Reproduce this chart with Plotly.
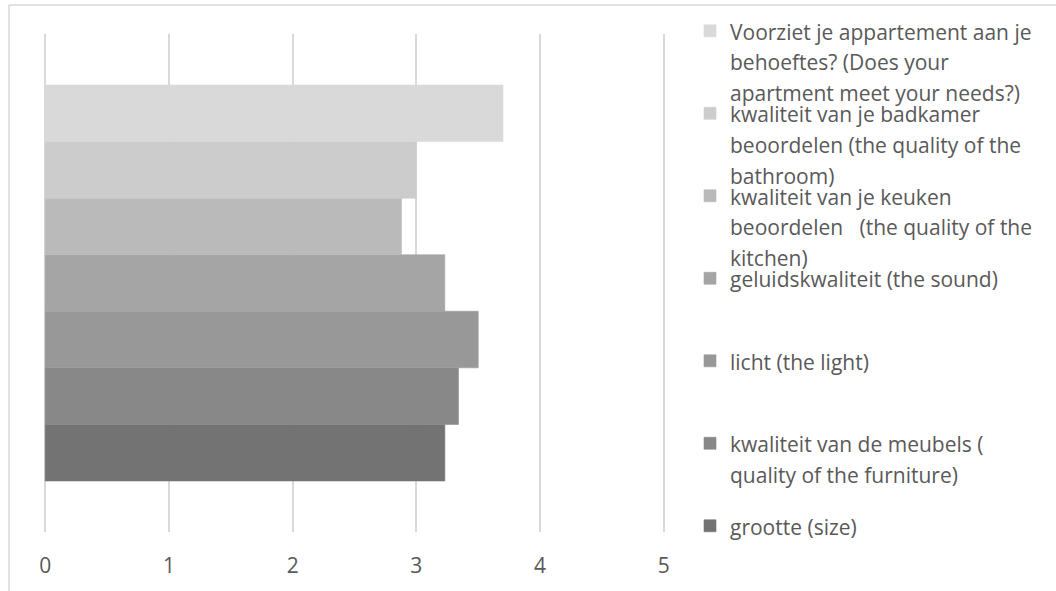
import plotly.graph_objects as go

# ---- data ----
series_names = [
    "grootte (size)",
    "kwaliteit van de meubels (<br>quality of the furniture)",
    "licht (the light)",
    "geluidskwaliteit (the sound)",
    "kwaliteit van je keuken<br>beoordelen   (the quality of the<br>kitchen)",
    "kwaliteit van je badkamer<br>beoordelen (the quality of the<br>bathroom)",
    "Voorziet je appartement aan je<br>behoeftes? (Does your<br>apartment meet your needs?)",
]
series_values = [3.23, 3.34, 3.50, 3.23, 2.88, 3.00, 3.70]
series_colors = ["#737373", "#888888", "#989898", "#a5a5a5", "#bababa", "#cccccc", "#d9d9d9"]
category = [""]
x_ticks = [0, 1, 2, 3, 4, 5]

W, H = 1056, 591
L, R, T, B = 39, 386, 34, 59
pw, ph = W - L - R, H - T - B

def px_x(x):
    return (x - L) / pw

def px_y(y):
    return (H - B - y) / ph

FONT = "Open Sans"
TXT = "#595959"
GLYPH = 21
LINEH = 23.5  # so 1.3em ≈ 30.5px

fig = go.Figure()
legend_slot_top = 32  # first-line centre of top legend entry
slot = 82.5
layout_legends = {}
n = len(series_names)
for i, (name, val, col) in enumerate(zip(series_names, series_values, series_colors)):
    lname = "legend" if i == 0 else f"legend{i+1}"
    styled = "<br>".join(f"<span style='font-size:{GLYPH}px'>{p}</span>" for p in name.split("<br>"))
    fig.add_trace(go.Bar(
        x=[val], y=category, orientation="h", name=styled,
        marker=dict(color=col, line=dict(width=0.6, color=col)),
        legend=lname,
    ))
    rank = n - 1 - i  # 0 = top entry
    y_line = legend_slot_top + rank * slot
    layout_legends[lname] = dict(
        x=px_x(690), xanchor="left",
        y=px_y(y_line - 23), yanchor="top",
        bgcolor="rgba(0,0,0,0)",
        font=dict(family=FONT, size=LINEH, color=TXT),
        valign="top",
        itemclick=False, itemdoubleclick=False,
    )

fig.update_layout(
    width=W, height=H,
    margin=dict(l=L, r=R, t=T, b=B, autoexpand=False),
    paper_bgcolor="white", plot_bgcolor="white",
    barmode="group", bargap=0.205, bargroupgap=0,
    showlegend=True,
    font=dict(family=FONT, color=TXT),
    xaxis=dict(
        range=[-0.05, 5.05], tickvals=x_ticks, ticktext=[str(t) for t in x_ticks],
        showgrid=True, gridcolor="#d9d9d9", gridwidth=1.5,
        zeroline=False, showline=False,
        tickfont=dict(family=FONT, size=GLYPH, color=TXT),
        ticklabelstandoff=19,
        fixedrange=True,
    ),
    yaxis=dict(showgrid=False, showticklabels=False, zeroline=False,
               range=[-0.5, 0.5], fixedrange=True),
    shapes=[
        dict(type="line", xref="paper", yref="paper",
             x0=px_x(9), x1=px_x(1200), y0=px_y(5), y1=px_y(5),
             line=dict(color="#d9d9d9", width=1.5), layer="below"),
        dict(type="line", xref="paper", yref="paper",
             x0=px_x(9), x1=px_x(9), y0=px_y(5), y1=px_y(700),
             line=dict(color="#d9d9d9", width=1.5), layer="below"),
    ],
    **layout_legends,
)

fig.write_html("out.html")
